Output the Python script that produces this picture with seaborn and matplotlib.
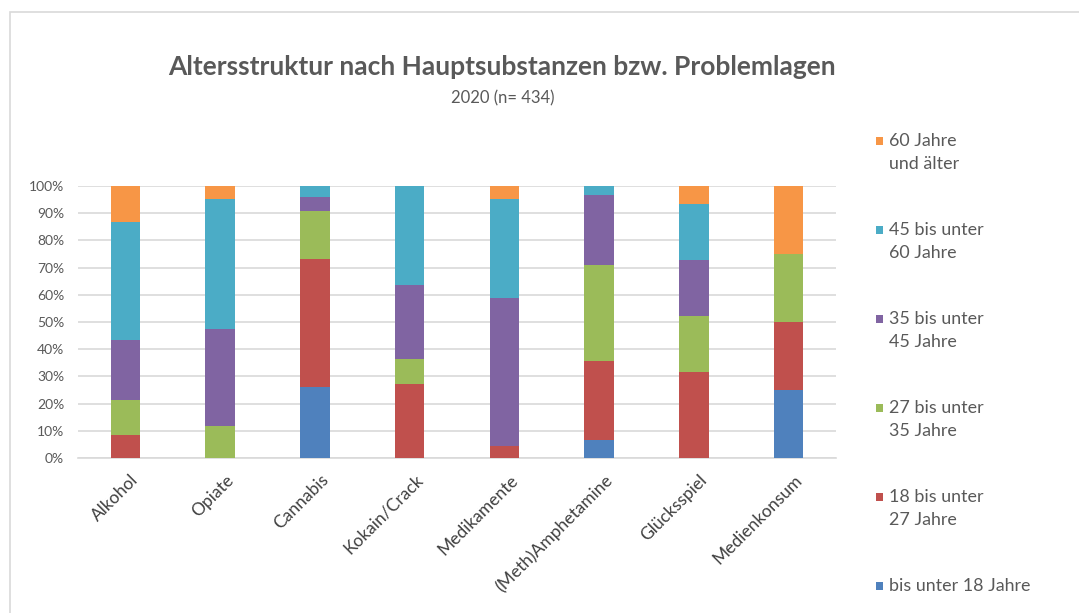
import matplotlib
matplotlib.use('Agg')
import pandas as pd
import seaborn as sns
from matplotlib import pyplot as plt
from matplotlib.patches import Rectangle
from matplotlib.transforms import ScaledTranslation

categories = ['Alkohol', 'Opiate', 'Cannabis', 'Kokain/Crack', 'Medikamente',
              '(Meth)Amphetamine', 'Glücksspiel', 'Medienkonsum']
unter_18 = [0, 0, 26.0, 0, 0, 6.5, 0, 25.0]
von_18_27 = [8.3, 0, 47.0, 27.3, 4.5, 29.0, 31.8, 25.0]
von_27_35 = [12.9, 11.8, 17.9, 9.1, 0, 35.5, 20.5, 25.0]
von_35_45 = [22.2, 35.7, 5.2, 27.3, 54.5, 25.8, 20.5, 0]
von_45_60 = [43.2, 47.6, 3.9, 36.3, 36.4, 3.2, 20.5, 0]
ab_60 = [13.4, 4.9, 0, 0, 4.6, 0, 6.7, 25.0]

series_names = ['bis unter 18 Jahre', '18 bis unter\n27 Jahre', '27 bis unter\n35 Jahre',
                '35 bis unter\n45 Jahre', '45 bis unter\n60 Jahre', '60 Jahre\nund älter']
colors = ['#4F81BD', '#C0504D', '#9BBB59', '#8064A2', '#4BACC6', '#F79646']

df = pd.DataFrame({'Kategorie': categories})
for name, vals in zip(series_names, [unter_18, von_18_27, von_27_35, von_35_45, von_45_60, ab_60]):
    df[name] = vals

sns.set_theme(style='white')
plt.rcParams['font.family'] = ['Lato', 'DejaVu Sans']

W, H = 1079, 613
fig = plt.figure(figsize=(W / 100, H / 100), dpi=100)
ax = fig.add_axes([78 / W, 1 - 458 / H, (836 - 78) / W, (458 - 186) / H])

# stacked bars: draw cumulative totals from top segment down
cum = df[series_names].cumsum(axis=1)
for name, col in reversed(list(zip(series_names, colors))):
    sns.barplot(x=df['Kategorie'], y=cum[name], color=col, saturation=1, width=0.31,
                errorbar=None, linewidth=0, ax=ax, zorder=3)

ax.set_xlim(-0.5, len(categories) - 0.5)
ax.set_ylim(0, 100)
ax.set_yticks(range(0, 101, 10))
ax.set_yticklabels([f'{v}%' for v in range(0, 101, 10)], color='#595959', fontsize=10)
ax.yaxis.grid(True, color='#D9D9D9', linewidth=1.2, zorder=0)
ax.set_axisbelow(True)
for s in ['top', 'right', 'left']:
    ax.spines[s].set_visible(False)
ax.spines['bottom'].set_color('#D9D9D9')
ax.spines['bottom'].set_linewidth(1.2)
ax.tick_params(axis='both', length=0)
ax.tick_params(axis='y', pad=10)
ax.tick_params(axis='x', pad=10)
ax.set_xlabel('')
ax.set_ylabel('')
shift = ScaledTranslation(5 / 100, 0, fig.dpi_scale_trans)
for lbl in ax.get_xticklabels():
    lbl.set(rotation=45, ha='right', va='top', rotation_mode='anchor',
            fontsize=12.5, color='#404040')
    lbl.set_transform(lbl.get_transform() + shift)

fig.text(502 / W, 1 - 67 / H, 'Altersstruktur nach Hauptsubstanzen bzw. Problemlagen',
         ha='center', va='center', fontsize=19, fontweight='bold', color='#595959')
fig.text(503 / W, 1 - 98 / H, '2020 (n= 434)', ha='center', va='center',
         fontsize=12, color='#595959')

# legend, top entry = oldest group
leg_y = [141, 230, 319, 408, 497, 586]
for y, name, col in zip(leg_y, reversed(series_names), reversed(colors)):
    fig.add_artist(Rectangle((876 / W, 1 - (y + 4) / H), 7 / W, 8 / H,
                             transform=fig.transFigure, color=col, lw=0))
    fig.text(889 / W, 1 - (y - 8) / H, name, ha='left', va='top', fontsize=12.9,
             color='#595959', linespacing=1.55)

fig.add_artist(Rectangle((10 / W, -0.1), 1.2, 1 - 12 / H + 0.1, transform=fig.transFigure,
                         fill=False, edgecolor='#D9D9D9', lw=1.2))

fig.savefig('out.png', dpi=100)
